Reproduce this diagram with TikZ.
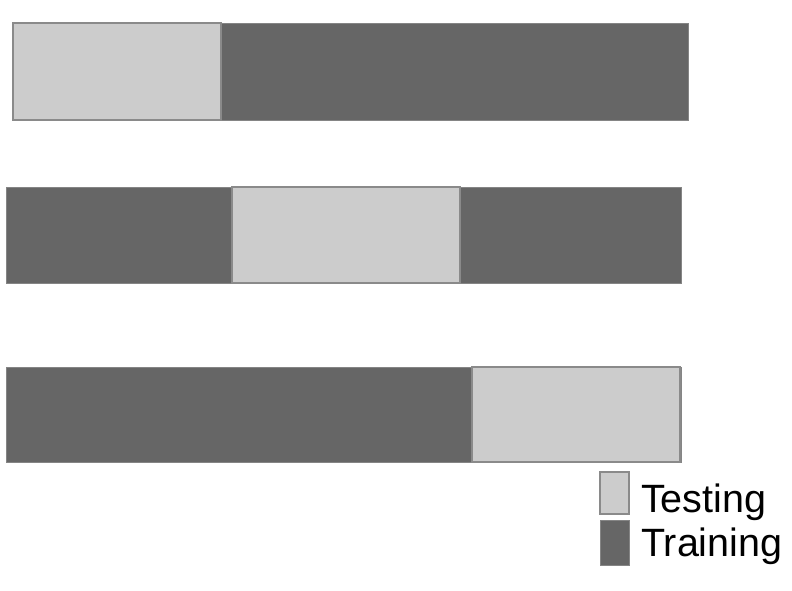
\documentclass[tikz,border=0pt]{standalone}
\usepackage{fontspec}
\setmainfont{Liberation Sans}
\definecolor{traincol}{HTML}{666666}
\definecolor{testcol}{HTML}{CCCCCC}
\definecolor{edgecol}{HTML}{8A8A8A}
\begin{document}
\begin{tikzpicture}[x=1pt,y=-1pt,
  trainbar/.style={fill=traincol,draw=traincol!80!white,line width=0.8pt},
  testbar/.style={fill=testcol,draw=edgecol,line width=1.6pt},
  legtext/.style={anchor=base west,inner sep=0pt,font=\fontsize{39.5}{39.5}\selectfont}]
\useasboundingbox (0,0) rectangle (792,590);
% row 1
\draw[trainbar] (13,23) rectangle (688,120);
\draw[testbar] (13,23) rectangle (221,120);
% row 2
\draw[trainbar] (6,187) rectangle (681,283);
\draw[testbar] (232,187) rectangle (460,283);
% row 3
\draw[trainbar] (6,367) rectangle (681,462);
\draw[testbar] (472,367) rectangle (680,462);
% legend
\draw[testbar] (600,472) rectangle (629,514);
\draw[trainbar] (600,520) rectangle (629,565);
\node[legtext] (ltest) at (641,512) {Testing};
\node[legtext] (ltrain) at (641,556) {Training};
\end{tikzpicture}
\end{document}
